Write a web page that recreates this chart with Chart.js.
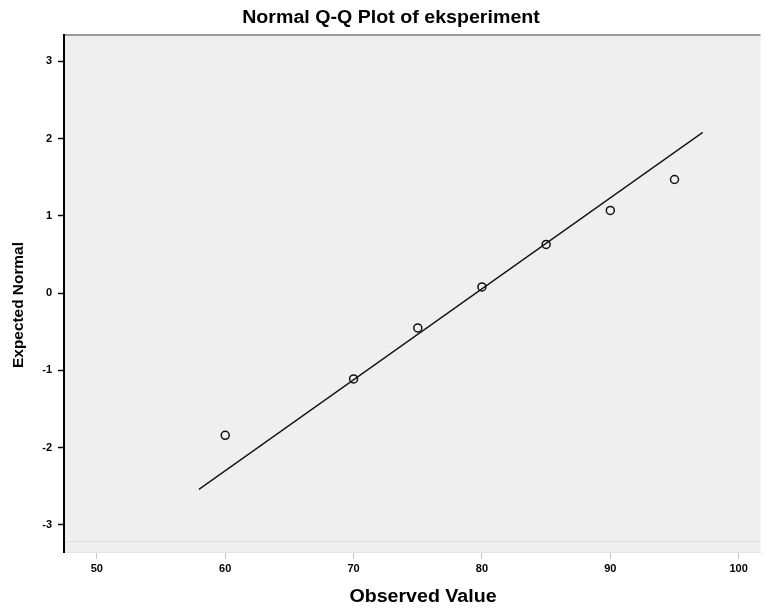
<!DOCTYPE html>
<html>
<head>
<meta charset="utf-8">
<script src="https://cdn.jsdelivr.net/npm/chart.js@4.4.1/dist/chart.umd.min.js"></script>
<style>
  html, body { margin: 0; padding: 0; background: #fff; }
  #wrap { width: 766px; height: 609px; }
</style>
</head>
<body>
<div id="wrap"><canvas id="qq" width="766" height="609"></canvas></div>
<script>
// Normal Q-Q plot data
const observed = [60, 70, 75, 80, 85, 90, 95];
const expectedNormal = [-1.84, -1.11, -0.45, 0.08, 0.63, 1.07, 1.47];
// reference line end points
const lineX = [57.95, 97.2];
const lineY = [-2.54, 2.08];
const xTicks = [50, 60, 70, 80, 90, 100];
const yTicks = [-3, -2, -1, 0, 1, 2, 3];

const chartTitle = 'Normal Q-Q Plot of eksperiment';
const xTitle = 'Observed Value';
const yTitle = 'Expected Normal';
const FONT = '"Liberation Sans", Arial, sans-serif';

// text drawn slightly stretched, like the SPSS export
function wideText(ctx, text, x, y, size, sx, rot) {
    ctx.save();
    ctx.translate(x, y);
    if (rot) ctx.rotate(rot);
    ctx.scale(sx, 1);
    ctx.font = 'bold ' + size + 'px ' + FONT;
    ctx.textAlign = 'center';
    ctx.textBaseline = 'middle';
    ctx.fillStyle = '#000';
    ctx.fillText(text, 0, 0);
    ctx.restore();
}

// grey plot background + top border + titles
const plotBg = {
    id: 'plotBg',
    beforeDraw(chart) {
        const { ctx, chartArea: a } = chart;
        ctx.save();
        ctx.fillStyle = '#efefef';
        ctx.fillRect(a.left, a.top, a.right - a.left, a.bottom - a.top);
        ctx.strokeStyle = '#9a9a9a';
        ctx.lineWidth = 2;
        ctx.beginPath();
        ctx.moveTo(a.left, a.top);
        ctx.lineTo(a.right, a.top);
        ctx.stroke();
        ctx.strokeStyle = '#dedede';
        ctx.lineWidth = 1;
        ctx.beginPath();
        ctx.moveTo(a.left, a.bottom - 10.5);
        ctx.lineTo(a.right, a.bottom - 10.5);
        ctx.stroke();
        ctx.restore();
        wideText(ctx, chartTitle, 391, 18, 18, 1.09, 0);
        wideText(ctx, xTitle, 423, 597, 18, 1.09, 0);
        wideText(ctx, yTitle, 19, 305, 14, 1.1, -Math.PI / 2);
    }
};

const pts = observed.map((x, i) => ({ x: x, y: expectedNormal[i] }));
const linePts = lineX.map((x, i) => ({ x: x, y: lineY[i] }));

new Chart(document.getElementById('qq'), {
    type: 'scatter',
    data: {
        datasets: [{
            label: 'Observed',
            data: pts,
            pointStyle: 'circle',
            pointRadius: 4,
            pointBorderWidth: 1.5,
            pointBorderColor: '#111',
            pointBackgroundColor: 'rgba(0,0,0,0)'
        }, {
            type: 'line',
            label: 'Reference',
            data: linePts,
            borderColor: '#111',
            borderWidth: 1.3,
            pointRadius: 0,
            fill: false
        }]
    },
    options: {
        responsive: false,
        animation: false,
        layout: { padding: { top: 35, right: 0, left: 0, bottom: 0 } },
        plugins: {
            legend: { display: false },
            tooltip: { enabled: false },
            title: { display: false }
        },
        scales: {
            x: {
                type: 'linear',
                min: 47.44,
                max: 101.7,
                afterBuildTicks: s => { s.ticks = xTicks.map(v => ({ value: v })); },
                afterFit: s => { s.height = 57; s.paddingLeft = 0; s.paddingRight = 0; },
                grid: { drawOnChartArea: false, tickLength: 7, tickColor: '#c8c8c8' },
                border: { color: '#e4e4e4', width: 1 },
                ticks: {
                    color: '#000',
                    padding: 3,
                    font: { family: FONT, size: 11, weight: 'bold' }
                }
            },
            y: {
                type: 'linear',
                min: -3.35,
                max: 3.34,
                afterBuildTicks: s => { s.ticks = yTicks.map(v => ({ value: v })); },
                afterFit: s => { s.width = 64; s.paddingTop = 0; s.paddingBottom = 0; },
                grid: { drawOnChartArea: false, tickLength: 6, tickColor: '#000', tickWidth: 1.5 },
                border: { color: '#000', width: 2 },
                ticks: {
                    color: '#000',
                    padding: 6,
                    font: { family: FONT, size: 11, weight: 'bold' }
                }
            }
        }
    },
    plugins: [plotBg]
});
</script>
</body>
</html>
